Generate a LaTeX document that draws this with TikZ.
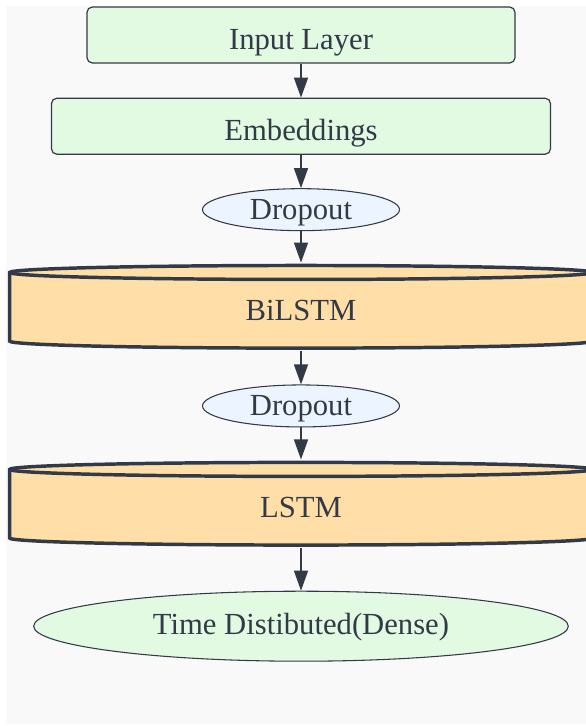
\documentclass[tikz,border=0pt]{standalone}
\usepackage{fontspec}
\setmainfont{Liberation Serif}
\usetikzlibrary{positioning,shapes.geometric,arrows.meta}

\definecolor{edge}{HTML}{333A47}
\definecolor{layergreen}{HTML}{E2F9E2}
\definecolor{dropblue}{HTML}{EBF4FF}
\definecolor{cylorange}{HTML}{FFDEA8}
\definecolor{canvas}{HTML}{F9F9F9}

\tikzset{
  box/.style={draw=edge, fill=layergreen, rounded corners=4pt, line width=0.9pt,
    minimum height=42pt, inner sep=0pt, text height=21pt, text depth=0pt},
  drop/.style={ellipse, draw=edge, fill=dropblue, line width=0.8pt,
    minimum width=147.75pt, minimum height=31.5pt, inner sep=0pt,
    text height=15pt, text depth=0pt},
  final/.style={ellipse, draw=edge, fill=layergreen, line width=0.8pt,
    minimum width=401pt, minimum height=52.5pt, inner sep=0pt,
    text height=13pt, text depth=0pt},
  rnn/.style={minimum width=441pt, minimum height=66pt, inner sep=0pt,
    text height=20.5pt, text depth=0pt,
    path picture={
      \draw[draw=edge, fill=cylorange, line width=2.6pt]
        ([shift={(2pt,-7.25pt)}]path picture bounding box.north west)
        -- ([shift={(2pt,7.25pt)}]path picture bounding box.south west)
        arc[start angle=180, end angle=360, x radius=218.5pt, y radius=5.25pt]
        -- ([shift={(-2pt,-7.25pt)}]path picture bounding box.north east)
        arc[start angle=0, end angle=180, x radius=218.5pt, y radius=5.25pt]
        -- cycle;
      \draw[draw=edge, line width=2.6pt]
        ([shift={(2pt,-7.25pt)}]path picture bounding box.north west)
        arc[start angle=180, end angle=360, x radius=218.5pt, y radius=5.25pt];
    }},
  flow/.style={draw=edge, line width=1.1pt, -{Triangle[length=15pt,width=10.5pt]}}
}

\begin{document}
\begin{tikzpicture}[node distance=25pt, font=\fontsize{23pt}{27pt}\selectfont, text=edge]
        \useasboundingbox (0pt,0pt) rectangle (439.5pt,-544.5pt);
        \fill[canvas] (4.5pt,-4.5pt) rectangle (439.5pt,-543pt);
        \node[box, minimum width=321pt] (input) at (225.75pt,-26.25pt) {Input Layer};
        \node[box, minimum width=374.25pt, below=25.5pt of input] (embed) {Embeddings};
        \node[drop, below=of embed] (drop1) {Dropout};
        \node[rnn, below=23.5pt of drop1] (bilstm) {BiLSTM};
        \node[drop, below=of bilstm] (drop2) {Dropout};
        \node[rnn, below=24pt of drop2] (lstm) {LSTM};
        \node[final, below=32pt of lstm] (dense) {Time Distibuted(Dense)};
        \draw[flow] (input) -- (embed);
        \draw[flow] (embed) -- (drop1);
        \draw[flow] (drop1) -- (bilstm);
        \draw[flow] (bilstm) -- (drop2);
        \draw[flow] (drop2) -- (lstm);
        \draw[flow] (lstm) -- (dense);
      \end{tikzpicture}
\end{document}
